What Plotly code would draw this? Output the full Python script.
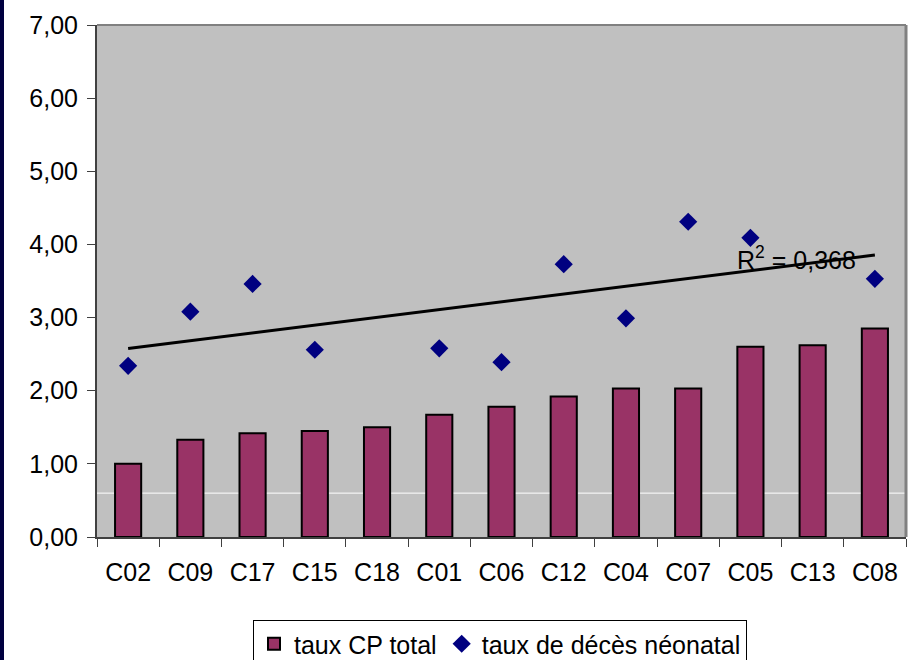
import numpy as np
import plotly.graph_objects as go

# Category codes along the x axis
categories = ["C02", "C09", "C17", "C15", "C18", "C01", "C06",
              "C12", "C04", "C07", "C05", "C13", "C08"]

# Total CP rate per category (bars)
taux_cp_total = [1.00, 1.33, 1.42, 1.45, 1.50, 1.67, 1.78,
                 1.92, 2.03, 2.03, 2.60, 2.62, 2.85]

# Neonatal death rate per category (diamonds); None where not available
taux_deces_neonatal = [2.34, 3.08, 3.46, 2.56, None, 2.58, 2.39,
                       3.73, 2.99, 4.31, 4.09, None, 3.53]

y_ticks = [0, 1, 2, 3, 4, 5, 6, 7]
reference_level = 0.6
r2_label = "R<sup>2</sup> = 0,368"

# Linear trend of the neonatal death rate against category position
idx = np.arange(1, len(categories) + 1)
mask = np.array([v is not None for v in taux_deces_neonatal])
yvals = np.array([v for v in taux_deces_neonatal if v is not None], dtype=float)
slope, intercept = np.polyfit(idx[mask], yvals, 1)
trend = slope * idx + intercept

fig = go.Figure()

fig.add_trace(go.Bar(
    x=categories, y=taux_cp_total, name="taux CP total",
    marker=dict(color="#993366", line=dict(color="#000000", width=2)),
))

fig.add_trace(go.Scatter(
    x=categories, y=taux_deces_neonatal, name="taux de décès néonatal",
    mode="markers",
    marker=dict(symbol="diamond", color="#000080", size=14),
))

fig.add_trace(go.Scatter(
    x=categories, y=trend, mode="lines", showlegend=False,
    line=dict(color="#000000", width=3), hoverinfo="skip",
))

W, H = 910, 660
ml, mr, mt, mb = 97, 4, 25, 123
pw = W - ml - mr
ph = H - mt - mb
FS = 25

fig.update_layout(
    width=W, height=H,
    margin=dict(l=ml, r=mr, t=mt, b=mb, autoexpand=False),
    paper_bgcolor="#ffffff",
    plot_bgcolor="#c0c0c0",
    bargap=0.58,
    separators=", ",
    font=dict(family="Liberation Sans, Arial, sans-serif", size=FS, color="#000000"),
    legend=dict(
        orientation="h", x=(500 - ml) / pw, xanchor="center",
        y=-(620 - (H - mb)) / ph, yanchor="top",
        bordercolor="#000000", borderwidth=1, bgcolor="#ffffff",
        font=dict(size=FS), itemwidth=30, tracegroupgap=0,
    ),
    showlegend=True,
)

fig.update_xaxes(
    type="category", range=[-0.5, len(categories) - 0.5],
    tickson="boundaries", ticks="outside", ticklen=8,
    tickcolor="#404040", tickwidth=1, ticklabelstandoff=12,
    showline=True, linecolor="#404040", linewidth=2, automargin=False,
    showgrid=False, tickfont=dict(size=FS), mirror=False,
)
fig.update_yaxes(
    range=[0, 7], tickvals=y_ticks, tickformat=".2f",
    ticks="outside", ticklen=8, tickcolor="#404040", tickwidth=1,
    ticklabelstandoff=4, automargin=False,
    showline=True, linecolor="#404040", linewidth=2,
    showgrid=False, zeroline=False, tickfont=dict(size=FS),
)

# Thin white reference line behind the bars
fig.add_shape(type="line", xref="paper", yref="y", x0=0, x1=1,
              y0=reference_level, y1=reference_level,
              line=dict(color="#ffffff", width=1), layer="below")
# Plot frame: top and right edges
fig.add_shape(type="line", xref="paper", yref="paper", x0=0, x1=1, y0=1, y1=1,
              line=dict(color="#808080", width=2))
fig.add_shape(type="line", xref="paper", yref="paper", x0=1, x1=1, y0=0, y1=1,
              line=dict(color="#808080", width=3))
# Dark strip along the left edge of the page
fig.add_shape(type="rect", xref="paper", yref="paper",
              x0=-ml / pw, x1=(-ml + 4) / pw, y0=-mb / ph, y1=(H - mt) / ph,
              fillcolor="#000040", line=dict(width=0))

fig.add_annotation(
    x="C05", y=3.82, xref="x", yref="y", text=r2_label, showarrow=False,
    xanchor="left", xshift=-15, font=dict(size=FS, color="#000000"),
)

fig.write_html("out.html")
